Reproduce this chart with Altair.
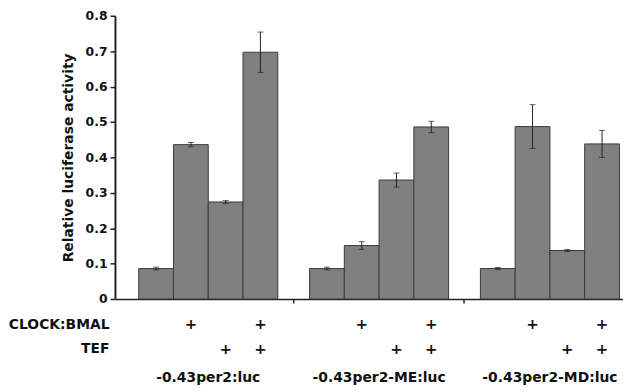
import altair as alt
import pandas as pd

groups = ["-0.43per2:luc", "-0.43per2-ME:luc", "-0.43per2-MD:luc"]
conditions = ["control", "CLOCK:BMAL", "TEF", "CLOCK:BMAL+TEF"]
row_labels = ["CLOCK:BMAL", "TEF"]
clock_plus = [False, True, False, True]
tef_plus = [False, False, True, True]

means_per2 = [0.086, 0.436, 0.274, 0.697]
means_me = [0.086, 0.151, 0.336, 0.486]
means_md = [0.086, 0.487, 0.137, 0.438]
err_per2 = [0.004, 0.006, 0.004, 0.057]
err_me = [0.004, 0.011, 0.020, 0.016]
err_md = [0.003, 0.062, 0.003, 0.038]

y_ticks = [0, 0.1, 0.2, 0.3, 0.4, 0.5, 0.6, 0.7, 0.8]

means = [means_per2, means_me, means_md]
errs = [err_per2, err_me, err_md]

rows = []
for gi, g in enumerate(groups):
    for ci, c in enumerate(conditions):
        m = means[gi][ci]
        e = errs[gi][ci]
        rows.append(dict(group=g, cond=c, value=m, lo=m - e, hi=m + e))
df = pd.DataFrame(rows)

plus_rows = []
for g in groups:
    for ci, c in enumerate(conditions):
        if clock_plus[ci]:
            plus_rows.append(dict(group=g, cond=c, row="CLOCK:BMAL", t="+"))
        if tef_plus[ci]:
            plus_rows.append(dict(group=g, cond=c, row="TEF", t="+"))
df_plus = pd.DataFrame(plus_rows)

FONT = "DejaVu Sans"
W = 513


def xs():
    return alt.Scale(domain=groups, paddingInner=0.186, paddingOuter=0.08, align=0.87)


def offs():
    return alt.Scale(domain=conditions, paddingInner=0, paddingOuter=0)


def x_top():
    return alt.X("group:N", sort=groups, scale=xs(),
                 axis=alt.Axis(title=None, labels=False, values=groups[1:], bandPosition=-0.114,
                               tickSize=4, tickColor="#222222", domainColor="#222222",
                               domainWidth=1.5, tickWidth=1.5))


def y_axis():
    return alt.Axis(title="Relative luciferase activity", values=y_ticks,
                    labelExpr="datum.value == 0 ? '0' : format(datum.value, '.1f')",
                    labelOverlap=False, tickSize=5, labelPadding=3, titlePadding=10,
                    domainColor="#222222", domainWidth=2, tickColor="#222222", tickWidth=1.5,
                    grid=False)


def ysc():
    return alt.Scale(domain=[0, 0.8], nice=False)


xo = alt.XOffset("cond:N", sort=conditions, scale=offs())
base = alt.Chart(df)

bars = base.mark_bar(color="#808080", stroke="#3a3a3a", strokeWidth=1).encode(
    x=x_top(), xOffset=xo,
    y=alt.Y("value:Q", scale=ysc(), axis=y_axis()),
)
rules = base.mark_rule(color="#222222", strokeWidth=1).encode(
    x=x_top(), xOffset=xo,
    y=alt.Y("lo:Q", scale=ysc(), axis=y_axis()), y2="hi:Q")
cap_lo = base.mark_tick(color="#222222", size=6, thickness=1).encode(
    x=x_top(), xOffset=xo, y=alt.Y("lo:Q", scale=ysc(), axis=y_axis()))
cap_hi = base.mark_tick(color="#222222", size=6, thickness=1).encode(
    x=x_top(), xOffset=xo, y=alt.Y("hi:Q", scale=ysc(), axis=y_axis()))

top = alt.layer(bars, rules, cap_lo, cap_hi).properties(width=W, height=286)

bottom = alt.Chart(df_plus).mark_text(font=FONT, fontWeight="bold", fontSize=15,
                                      baseline="middle", color="#111111").encode(
    x=alt.X("group:N", sort=groups, scale=xs(),
            axis=alt.Axis(title=None, domain=False, ticks=False, labelPadding=9,
                          labelFontSize=14, labelAngle=0)),
    xOffset=xo,
    y=alt.Y("row:N", sort=row_labels,
            scale=alt.Scale(domain=row_labels, paddingInner=0, paddingOuter=0),
            axis=alt.Axis(title=None, domain=False, ticks=False, labelPadding=6,
                          labelFontSize=14)),
    text="t:N",
).properties(width=W, height=50)

chart = alt.vconcat(top, bottom, spacing=6).properties(
    padding={"left": 0, "top": 0, "right": 0, "bottom": 0}
).configure_view(stroke=None).configure_axis(
    labelFont=FONT, labelFontWeight="bold", labelFontSize=12.5, labelColor="#111111",
    titleFont=FONT, titleFontWeight="bold", titleFontSize=14, titleColor="#111111",
)

chart.save("out.html", embed_options={"renderer": "svg", "actions": False})
